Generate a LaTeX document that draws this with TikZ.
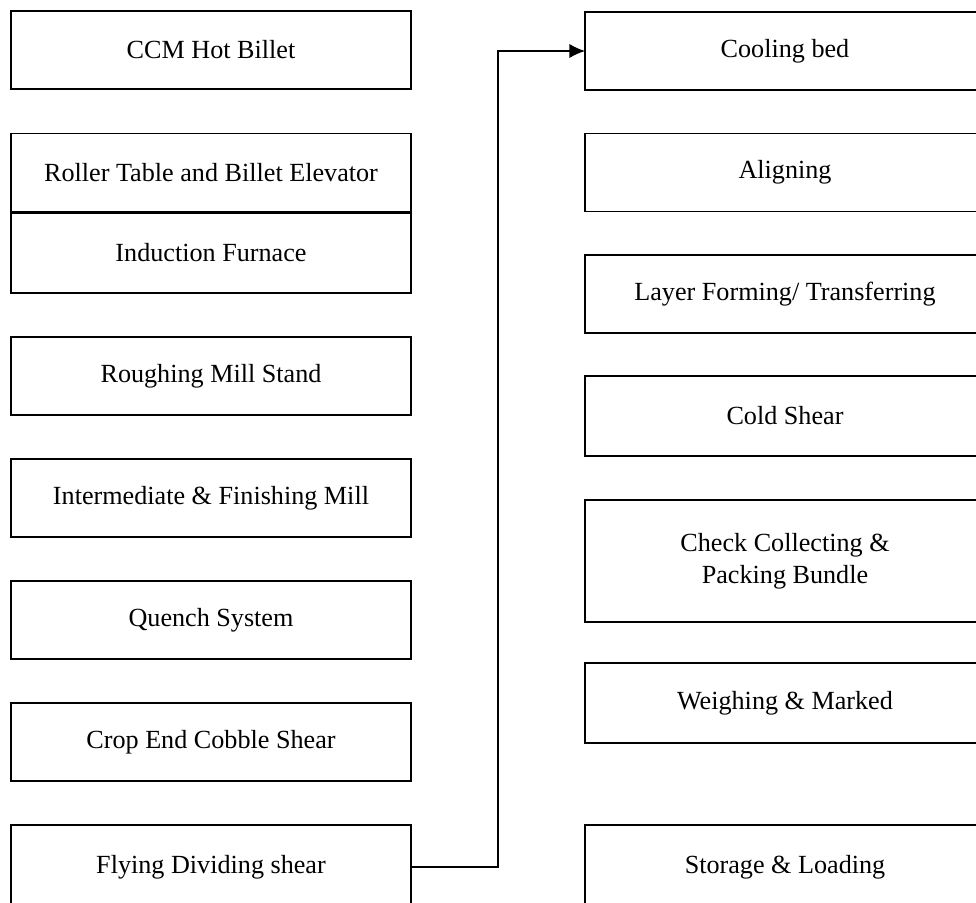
\documentclass[tikz,border=0pt]{standalone}
\usepackage{fontspec}
\setmainfont{Liberation Serif}
\usetikzlibrary{arrows.meta}

\begin{document}
\begin{tikzpicture}[x=0.025cm, y=-0.025cm]
\tikzset{ >={Latex[length=11pt,width=10pt]}, inner sep=0pt, outer sep=0pt,
  stage/.style={draw, line width=0.8pt, minimum width=10cm, minimum height=1.95cm,
                align=center, font=\fontsize{18.6}{22.7}\selectfont},
  tall/.style={minimum height=3.05cm} }

\useasboundingbox (0,0) rectangle (976,903);

% left column
\node [stage] (ccm)      at (211,50)    {CCM Hot Billet};
\node [stage] (roller)   at (211,172.5) {Roller Table and Billet Elevator};
\node [stage, minimum height=2cm] (furnace) at (211,253) {Induction Furnace};
\node [stage] (roughing) at (211,376)   {Roughing Mill Stand};
\node [stage] (mill)     at (211,498)   {Intermediate \& Finishing Mill};
\node [stage] (quench)   at (211,620)   {Quench System};
\node [stage] (crop)     at (211,742)   {Crop End Cobble Shear};
\node [stage, minimum height=2.1cm] (flying) at (211,867) {Flying Dividing shear};

% right column
\node [stage] (cooling)  at (785,51)    {Cooling bed};
\node [stage] (aligning) at (785,172.5) {Aligning};
\node [stage] (layer)    at (785,294)   {Layer Forming/ Transferring};
\node [stage, minimum height=2cm] (cold) at (785,416) {Cold Shear};
\node [stage, tall] (check) at (785,561) {Check Collecting \&\\Packing Bundle};
\node [stage, minimum height=2cm] (weigh) at (785,703) {Weighing \& Marked};
\node [stage, minimum height=2.1cm] (storage) at (785,867) {Storage \& Loading};

\draw [->, line width=0.8pt] (flying.east) -- ++(87,0) |- (cooling.west);

\end{tikzpicture}
\end{document}
